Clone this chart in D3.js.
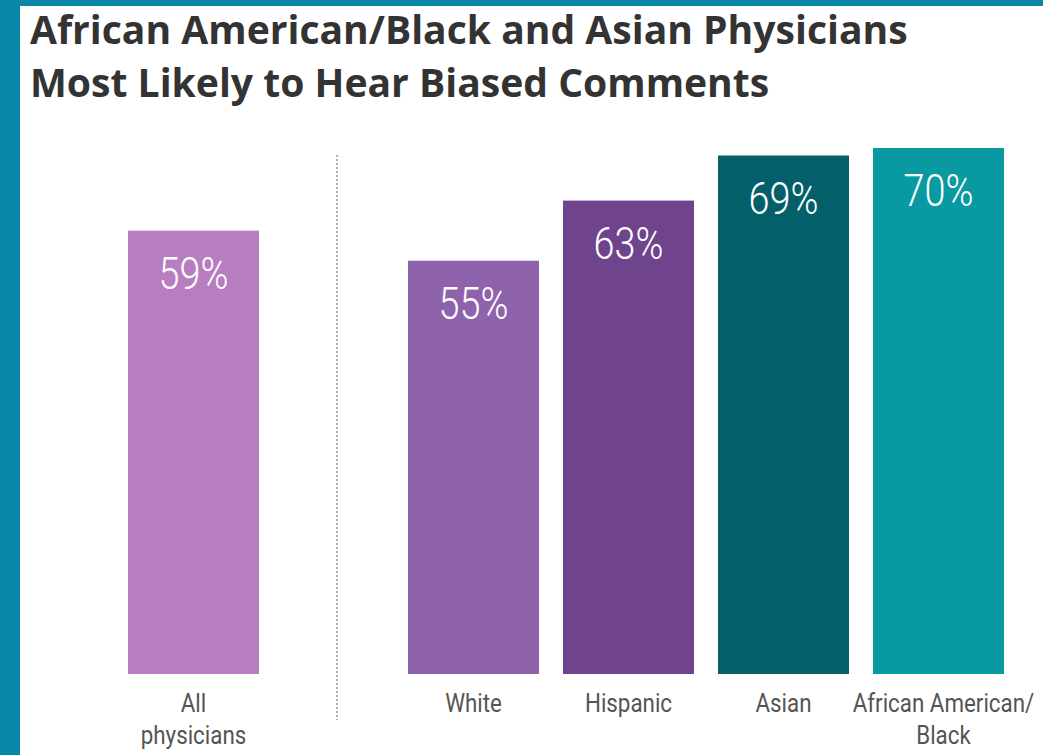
<!DOCTYPE html>
<html><head><meta charset="utf-8">
<script src="https://cdn.jsdelivr.net/npm/d3@7/dist/d3.min.js"></script>
<style>html,body{margin:0;padding:0;background:#fff;overflow:hidden}</style>
</head><body>
<script>
const titleLines = ["African American/Black and Asian Physicians", "Most Likely to Hear Biased Comments"];
const overallCategory = ["All physicians"];
const overallValues = [59];
const groupCategories = ["White", "Hispanic", "Asian", "African American/Black"];
const groupValues = [55, 63, 69, 70];
const categoryLabelLines = {
  "All physicians": ["All", "physicians"],
  "White": ["White"],
  "Hispanic": ["Hispanic"],
  "Asian": ["Asian"],
  "African American/Black": ["African American/", "Black"]
};
const barColors = {
  "All physicians": "#b77dc0",
  "White": "#8e63ab",
  "Hispanic": "#6f448c",
  "Asian": "#03606a",
  "African American/Black": "#089aa0"
};

const W = 1043, H = 755;
const svg = d3.select("body").append("svg").attr("width", W).attr("height", H);

svg.append("rect").attr("x", 0).attr("y", 0).attr("width", W).attr("height", H).attr("fill", "#fff");
svg.append("rect").attr("x", 0).attr("y", 0).attr("width", W).attr("height", 6).attr("fill", "#0a88a8");
svg.append("rect").attr("x", 0).attr("y", 0).attr("width", 20).attr("height", H).attr("fill", "#0a88a8");

const title = svg.append("g");
titleLines.forEach((t, i) => {
  title.append("text").attr("x", 30).attr("y", 44 + i * 53)
    .attr("font-family", "'Open Sans', Lato, sans-serif").attr("font-weight", 700)
    .attr("font-size", 37).attr("fill", "#333").text(t);
});
{
  const first = title.select("text").node();
  const len = first.getComputedTextLength();
  const k = 878 / len;
  title.selectAll("text").attr("font-size", 37 * k);
}

const y = d3.scaleLinear().domain([0, 70]).range([674, 148]);
const xAll = d3.scaleBand().domain(overallCategory).range([116, 271]).paddingInner(0.155).paddingOuter(0.0775);
const xGrp = d3.scaleBand().domain(groupCategories).range([396, 1016]).paddingInner(0.155).paddingOuter(0.0775);

const data = overallCategory.map((c, i) => ({c, v: overallValues[i], x: xAll(c), w: xAll.bandwidth()}))
  .concat(groupCategories.map((c, i) => ({c, v: groupValues[i], x: xGrp(c), w: xGrp.bandwidth()})));

svg.selectAll("rect.bar").data(data).enter().append("rect").attr("class", "bar")
  .attr("x", d => d.x).attr("width", d => d.w)
  .attr("y", d => y(d.v)).attr("height", d => y(0) - y(d.v))
  .attr("fill", d => barColors[d.c]);

data.forEach(d => {
  const cx = d.x + d.w / 2;
  svg.append("text")
    .attr("transform", `translate(${cx},${y(d.v) + 58}) scale(0.86,1)`)
    .attr("text-anchor", "middle")
    .attr("font-family", "Roboto, sans-serif").attr("font-weight", 300)
    .attr("font-size", 44).attr("fill", "#fff")
    .text(d.v + "%");
  categoryLabelLines[d.c].forEach((line, j) => {
    svg.append("text")
      .attr("transform", `translate(${cx + (d.c === "African American/Black" ? 5 : 0)},${712 + j * 32}) scale(0.86,1)`)
      .attr("text-anchor", "middle")
      .attr("font-family", "Roboto, sans-serif").attr("font-weight", 400)
      .attr("font-size", 26).attr("fill", "#555")
      .text(line);
  });
});

const divX = (xAll.range()[1] + xGrp.range()[0]) / 2 + 3.5;
svg.append("line").attr("x1", divX).attr("x2", divX).attr("y1", 155).attr("y2", 720)
  .attr("stroke", "#999").attr("stroke-width", 1.5).attr("stroke-dasharray", "2,2");
</script>
</body></html>
